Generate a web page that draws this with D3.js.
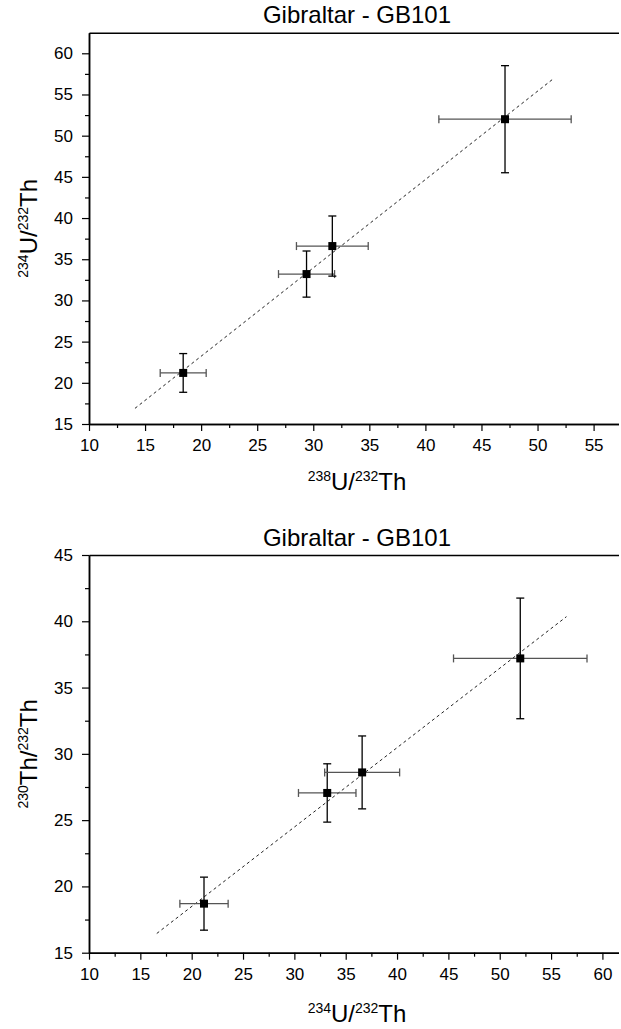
<!DOCTYPE html>
<html>
<head>
<meta charset="utf-8">
<script src="https://cdn.jsdelivr.net/npm/d3@7"></script>
<style>
  html, body { margin: 0; padding: 0; background: #fff; }
  svg { display: block; }
  text { font-family: "Liberation Sans", Arial, sans-serif; fill: #000; }
</style>
</head>
<body>
<script>
// Gibraltar GB101 isotope activity ratios
const sampleU238Th232 = [18.4, 29.4, 31.7, 47.1];
const sampleU238Th232Err = [2.05, 2.5, 3.2, 5.9];
const sampleU234Th232 = [21.2, 33.2, 36.6, 52.0];
const sampleU234Th232Err = [2.35, 2.8, 3.65, 6.5];
const sampleTh230Th232 = [18.7, 27.05, 28.6, 37.2];
const sampleTh230Th232Err = [2.0, 2.2, 2.75, 4.55];

// Regression line end points
const fitTopX = [14.1, 51.4];
const fitTopY = [16.9, 56.9];
const fitBottomX = [16.6, 56.5];
const fitBottomY = [16.45, 40.35];

// Axis ticks
const topXTicks = [10, 15, 20, 25, 30, 35, 40, 45, 50, 55];
const topYTicks = [15, 20, 25, 30, 35, 40, 45, 50, 55, 60];
const bottomXTicks = [10, 15, 20, 25, 30, 35, 40, 45, 50, 55, 60];
const bottomYTicks = [15, 20, 25, 30, 35, 40, 45];

const chartTitle = "Gibraltar - GB101";

const W = 619, H = 1029;
const svg = d3.select("body").append("svg").attr("width", W).attr("height", H);

// axis title with superscript mass numbers
function label(g, x, y, parts, rotate) {
  const t = g.append("text")
    .attr("text-anchor", "middle")
    .attr("transform", `translate(${x},${y})` + (rotate ? " rotate(-90)" : ""));
  parts.forEach(p => {
    if (p.sup) {
      t.append("tspan").attr("font-size", 14).attr("dy", -9).text(p.t);
    } else {
      t.append("tspan").attr("font-size", 24).attr("dy", p.after ? 9 : 0).text(p.t);
    }
  });
  return t;
}

function ratioParts(a, el) {
  return [
    { t: a, sup: true }, { t: el + "/", after: true },
    { t: "232", sup: true }, { t: "Th", after: true }
  ];
}

function panel(cfg) {
  const g = svg.append("g");
  const x = d3.scaleLinear().domain(cfg.xDomain).range([89, 625]);
  const y = d3.scaleLinear().domain(cfg.yDomain).range(cfg.yRange);
  const x0 = x.range()[0];
  const yBottom = y.range()[0], yTop = y.range()[1];

  // minor ticks halfway between majors
  const minor = (ticks) => ticks.slice(0, -1).map((v, i) => (v + ticks[i + 1]) / 2);
  const xMinor = minor(cfg.xTicks.concat([cfg.xTicks[cfg.xTicks.length - 1] + 5]));
  const yMinor = minor(cfg.yTicks);

  g.append("g").attr("transform", `translate(0,${yBottom})`)
    .call(d3.axisBottom(x).tickValues(xMinor).tickSize(4).tickFormat("").tickSizeOuter(0));
  g.append("g").attr("transform", `translate(${x0},0)`)
    .call(d3.axisLeft(y).tickValues(yMinor).tickSize(4).tickFormat("").tickSizeOuter(0));

  g.append("g").attr("transform", `translate(0,${yBottom})`)
    .call(d3.axisBottom(x).tickValues(cfg.xTicks).tickSize(7).tickPadding(8).tickSizeOuter(0));
  g.append("g").attr("transform", `translate(${x0},0)`)
    .call(d3.axisLeft(y).tickValues(cfg.yTicks).tickSize(7).tickPadding(9).tickSizeOuter(0));
  g.append("g").attr("transform", `translate(0,${yTop})`)
    .call(d3.axisTop(x).tickValues([]).tickSizeOuter(0));

  g.selectAll(".domain").attr("stroke", "#000").attr("stroke-width", 1.5);
  g.selectAll(".tick line").attr("stroke", "#000").attr("stroke-width", 1.2);
  g.selectAll(".tick text").attr("font-size", 17)
    .attr("font-family", "'Liberation Sans', Arial, sans-serif").attr("fill", "#000");

  // title and axis titles
  g.append("text").attr("x", 357).attr("y", cfg.titleY).attr("text-anchor", "middle")
    .attr("font-size", 24).text(chartTitle);
  label(g, 357, cfg.xLabelY, cfg.xLabel, false);
  label(g, 37, (yTop + yBottom) / 2, cfg.yLabel, true);

  // dashed regression line
  const fit = cfg.fitX.map((v, i) => [v, cfg.fitY[i]]);
  g.append("path")
    .attr("d", d3.line().x(d => x(d[0])).y(d => y(d[1]))(fit))
    .attr("fill", "none").attr("stroke", "#222").attr("stroke-width", 1)
    .attr("stroke-dasharray", "3,3");

  // error bars and square markers
  const pts = cfg.xs.map((v, i) => ({ x: v, y: cfg.ys[i], ex: cfg.exs[i], ey: cfg.eys[i] }));
  const cap = 4;
  const hCol = "#555", vCol = "#000", sw = 1.3;
  const eb = g.append("g").selectAll("g").data(pts).join("g");
  eb.append("line")
    .attr("x1", d => x(d.x - d.ex)).attr("x2", d => x(d.x + d.ex))
    .attr("y1", d => y(d.y)).attr("y2", d => y(d.y))
    .attr("stroke", hCol).attr("stroke-width", sw);
  eb.append("line")
    .attr("x1", d => x(d.x - d.ex)).attr("x2", d => x(d.x - d.ex))
    .attr("y1", d => y(d.y) - cap).attr("y2", d => y(d.y) + cap)
    .attr("stroke", hCol).attr("stroke-width", sw);
  eb.append("line")
    .attr("x1", d => x(d.x + d.ex)).attr("x2", d => x(d.x + d.ex))
    .attr("y1", d => y(d.y) - cap).attr("y2", d => y(d.y) + cap)
    .attr("stroke", hCol).attr("stroke-width", sw);
  eb.append("line")
    .attr("x1", d => x(d.x)).attr("x2", d => x(d.x))
    .attr("y1", d => y(d.y - d.ey)).attr("y2", d => y(d.y + d.ey))
    .attr("stroke", vCol).attr("stroke-width", sw);
  eb.append("line")
    .attr("x1", d => x(d.x) - cap).attr("x2", d => x(d.x) + cap)
    .attr("y1", d => y(d.y - d.ey)).attr("y2", d => y(d.y - d.ey))
    .attr("stroke", vCol).attr("stroke-width", sw);
  eb.append("line")
    .attr("x1", d => x(d.x) - cap).attr("x2", d => x(d.x) + cap)
    .attr("y1", d => y(d.y + d.ey)).attr("y2", d => y(d.y + d.ey))
    .attr("stroke", vCol).attr("stroke-width", sw);
  eb.append("rect")
    .attr("x", d => x(d.x) - 4).attr("y", d => y(d.y) - 4)
    .attr("width", 8).attr("height", 8).attr("fill", "#000");
}

panel({
  xDomain: [10, 57.8], yDomain: [15, 62.5], yRange: [424, 32.7],
  xTicks: topXTicks, yTicks: topYTicks,
  titleY: 23, xLabelY: 490,
  xLabel: ratioParts("238", "U"), yLabel: ratioParts("234", "U"),
  xs: sampleU238Th232, exs: sampleU238Th232Err,
  ys: sampleU234Th232, eys: sampleU234Th232Err,
  fitX: fitTopX, fitY: fitTopY
});

panel({
  xDomain: [10, 62.2], yDomain: [15, 45], yRange: [952.7, 555],
  xTicks: bottomXTicks, yTicks: bottomYTicks,
  titleY: 546, xLabelY: 1022,
  xLabel: ratioParts("234", "U"), yLabel: ratioParts("230", "Th"),
  xs: sampleU234Th232, exs: sampleU234Th232Err,
  ys: sampleTh230Th232, eys: sampleTh230Th232Err,
  fitX: fitBottomX, fitY: fitBottomY
});
</script>
</body>
</html>
